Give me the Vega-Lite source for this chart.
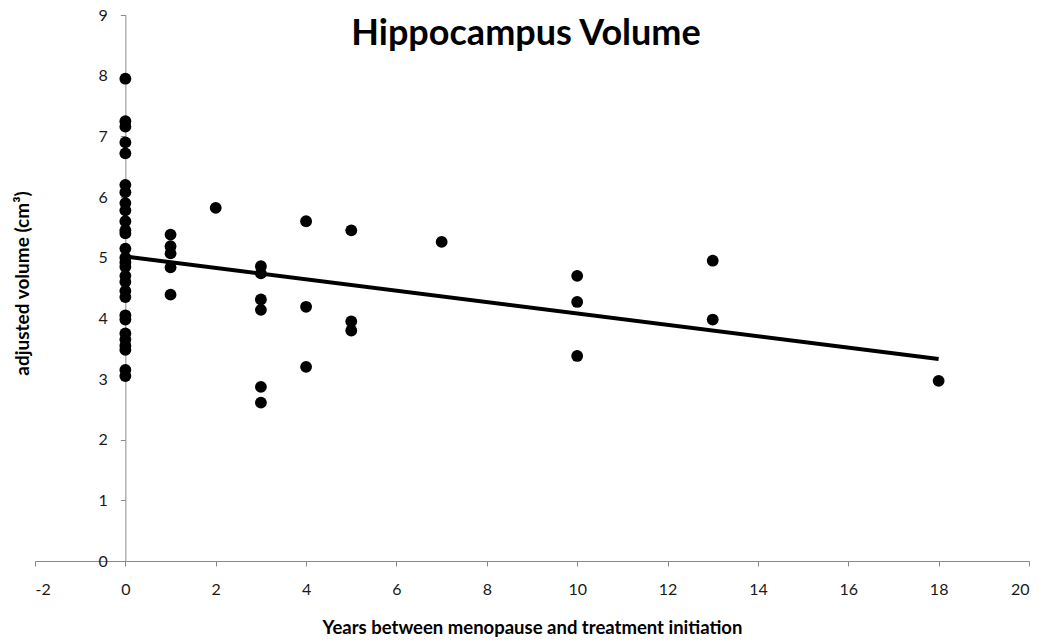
{
  "$schema": "https://vega.github.io/schema/vega-lite/v6.json",
  "autosize": {"type": "none"},
  "width": 994,
  "height": 546,
  "padding": {"left": 35, "top": 15, "right": 10, "bottom": 80},
  "background": "white",
  "config": {"view": {"stroke": null}, "font": "Lato"},
  "title": {"text": "Hippocampus Volume", "font": "Lato", "fontSize": 36, "fontWeight": "bold", "color": "black", "anchor": "middle", "offset": -46, "dx": -6},
  "datasets": {
    "points": [
      {"years": 0, "volume": 7.95}, {"years": 0, "volume": 7.25}, {"years": 0, "volume": 7.16},
      {"years": 0, "volume": 6.9}, {"years": 0, "volume": 6.72}, {"years": 0, "volume": 6.2},
      {"years": 0, "volume": 6.08}, {"years": 0, "volume": 5.9}, {"years": 0, "volume": 5.78},
      {"years": 0, "volume": 5.6}, {"years": 0, "volume": 5.45}, {"years": 0, "volume": 5.4},
      {"years": 0, "volume": 5.15}, {"years": 0, "volume": 5.0}, {"years": 0, "volume": 4.92},
      {"years": 0, "volume": 4.85}, {"years": 0, "volume": 4.7}, {"years": 0, "volume": 4.6},
      {"years": 0, "volume": 4.45}, {"years": 0, "volume": 4.35}, {"years": 0, "volume": 4.05},
      {"years": 0, "volume": 3.98}, {"years": 0, "volume": 3.75}, {"years": 0, "volume": 3.65},
      {"years": 0, "volume": 3.55}, {"years": 0, "volume": 3.48}, {"years": 0, "volume": 3.15},
      {"years": 0, "volume": 3.05},
      {"years": 1, "volume": 5.38}, {"years": 1, "volume": 5.19}, {"years": 1, "volume": 5.07},
      {"years": 1, "volume": 4.84}, {"years": 1, "volume": 4.39},
      {"years": 2, "volume": 5.82},
      {"years": 3, "volume": 4.86}, {"years": 3, "volume": 4.74}, {"years": 3, "volume": 4.31},
      {"years": 3, "volume": 4.14}, {"years": 3, "volume": 2.87}, {"years": 3, "volume": 2.61},
      {"years": 4, "volume": 5.6}, {"years": 4, "volume": 4.19}, {"years": 4, "volume": 3.2},
      {"years": 5, "volume": 5.45}, {"years": 5, "volume": 3.95}, {"years": 5, "volume": 3.8},
      {"years": 7, "volume": 5.26},
      {"years": 10, "volume": 4.7}, {"years": 10, "volume": 4.27}, {"years": 10, "volume": 3.38},
      {"years": 13, "volume": 4.95}, {"years": 13, "volume": 3.98},
      {"years": 18, "volume": 2.97}
    ],
    "trend": [
      {"years": 0, "volume": 5.02},
      {"years": 18, "volume": 3.33}
    ]
  },
  "layer": [
    {
      "data": {"name": "points"},
      "mark": {"type": "circle", "size": 140, "color": "black", "opacity": 1},
      "encoding": {
        "x": {
          "field": "years", "type": "quantitative",
          "scale": {"domain": [-2, 20], "nice": false, "zero": false},
          "axis": {
            "values": [-2, 0, 2, 4, 6, 8, 10, 12, 14, 16, 18, 20],
            "labelExpr": "'' + datum.value",
            "grid": false, "domainColor": "#8a8a8a", "tickColor": "#8a8a8a", "tickSize": 5,
            "labelFontSize": 16, "labelColor": "#1a1a1a", "labelPadding": 15, "labelFont": "Lato",
            "title": "Years between menopause and treatment initiation",
            "titleFont": "Lato", "titleFontSize": 18.5, "titleFontWeight": "bold", "titleColor": "black",
            "titlePadding": 21
          }
        },
        "y": {
          "field": "volume", "type": "quantitative",
          "scale": {"domain": [0, 9], "nice": false, "zero": false},
          "axis": {
            "values": [0, 1, 2, 3, 4, 5, 6, 7, 8, 9],
            "labelExpr": "'' + datum.value",
            "offset": -90.36,
            "grid": false, "domainColor": "#8a8a8a", "tickColor": "#8a8a8a", "tickSize": 5,
            "labelFontSize": 16, "labelColor": "#1a1a1a", "labelPadding": 13, "labelFont": "Lato",
            "title": "adjusted volume (cm³)",
            "titleFont": "Lato", "titleFontSize": 19, "titleFontWeight": "bold", "titleColor": "black",
            "titleX": -93, "titleY": 268
          }
        }
      }
    },
    {
      "data": {"name": "trend"},
      "mark": {"type": "line", "color": "black", "strokeWidth": 4},
      "encoding": {
        "x": {"field": "years", "type": "quantitative"},
        "y": {"field": "volume", "type": "quantitative"}
      }
    }
  ]
}
